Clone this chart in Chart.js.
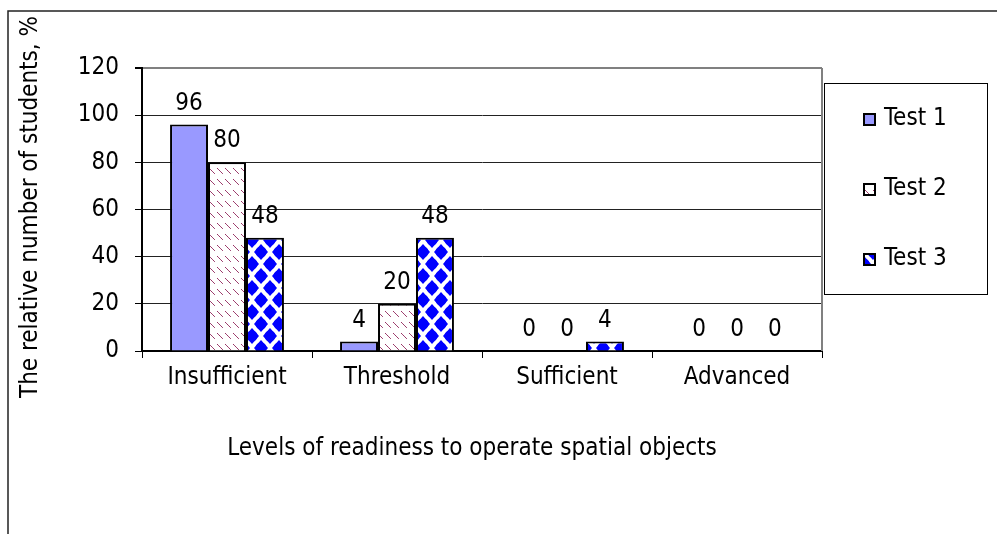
<!DOCTYPE html>
<html>
<head>
<meta charset="utf-8">
<script src="https://cdn.jsdelivr.net/npm/chart.js@4.4.0/dist/chart.umd.min.js"></script>
<style>
  html, body { margin: 0; padding: 0; background: #fff; }
</style>
</head>
<body>
<canvas id="readinessChart" width="997" height="534"></canvas>
<script>
const categories = ['Insufficient', 'Threshold', 'Sufficient', 'Advanced'];
const seriesNames = ['Test 1', 'Test 2', 'Test 3'];
const test1 = [96, 4, 0, 0];
const test2 = [80, 20, 0, 0];
const test3 = [48, 48, 4, 0];
const yTickValues = [0, 20, 40, 60, 80, 100, 120];
const yTitle = 'The relative number of students, %';
const xTitle = 'Levels of readiness to operate spatial objects';

const FONT = '"DejaVu Sans Condensed", "Liberation Sans", sans-serif';

// hatched fill for Test 2
function hatchPattern(ctx) {
  const c = document.createElement('canvas');
  c.width = 8; c.height = 11;
  const g = c.getContext('2d');
  g.fillStyle = '#fff';
  g.fillRect(0, 0, 8, 11);
  for (let i = 0; i < 6; i++) {
    g.fillStyle = i % 2 ? '#a34d78' : '#993366';
    g.fillRect(1 + i, 3 + i, 1, 1);
  }
  return ctx.createPattern(c, 'repeat');
}

// blue diamond fill for Test 3
function diamondPattern(ctx) {
  const c = document.createElement('canvas');
  c.width = 18; c.height = 24;
  const g = c.getContext('2d');
  g.fillStyle = '#fff';
  g.fillRect(0, 0, 18, 24);
  g.fillStyle = '#0000ff';
  [[0, 0], [18, 0], [0, 24], [18, 24], [9, 12]].forEach(([x, y]) => {
    g.beginPath();
    g.moveTo(x, y - 8);
    g.lineTo(x + 7, y);
    g.lineTo(x, y + 8);
    g.lineTo(x - 7, y);
    g.closePath();
    g.fill();
    g.beginPath();
    g.arc(x, y, 5.5, 0, Math.PI * 2);
    g.fill();
  });
  return ctx.createPattern(c, 'repeat');
}

const canvas = document.getElementById('readinessChart');
const ctx = canvas.getContext('2d');
const fills = ['#9999ff', hatchPattern(ctx), diamondPattern(ctx)];

const extras = {
  id: 'extras',
  afterDatasetsDraw(chart) {
    const g = chart.ctx;
    const area = chart.chartArea;
    g.save();

    // plot area right border
    g.strokeStyle = '#808080';
    g.lineWidth = 2;
    g.beginPath();
    g.moveTo(area.right, area.top);
    g.lineTo(area.right, area.bottom);
    g.stroke();

    // value labels
    g.fillStyle = '#000';
    g.font = '24px ' + FONT;
    g.textAlign = 'center';
    g.textBaseline = 'alphabetic';
    chart.data.datasets.forEach((ds, i) => {
      chart.getDatasetMeta(i).data.forEach((bar, j) => {
        g.fillText(String(ds.data[j]), bar.x, bar.y - 15);
      });
    });

    // axis titles
    g.textBaseline = 'middle';
    g.fillText(xTitle, 472, 449);
    g.save();
    g.translate(31, 207);
    g.rotate(-Math.PI / 2);
    g.fillText(yTitle, 0, 0);
    g.restore();

    // legend box
    g.strokeStyle = '#000';
    g.lineWidth = 1;
    g.strokeRect(824.5, 83.5, 163, 211);
    g.textAlign = 'left';
    chart.data.datasets.forEach((ds, i) => {
      const cy = 119 + i * 70;
      g.fillStyle = ds.backgroundColor;
      g.fillRect(864, cy - 5, 11, 11);
      g.strokeStyle = '#000';
      g.lineWidth = 2;
      g.strokeRect(864, cy - 5, 11, 11);
      g.fillStyle = '#000';
      g.fillText(ds.label, 884, cy);
    });

    // outer frame
    g.strokeStyle = '#222';
    g.lineWidth = 1.5;
    g.beginPath();
    g.moveTo(8, 534);
    g.lineTo(8, 11);
    g.lineTo(997, 11);
    g.stroke();

    g.restore();
  }
};

new Chart(ctx, {
  type: 'bar',
  data: {
    labels: categories,
    datasets: [test1, test2, test3].map((vals, i) => ({
      label: seriesNames[i],
      data: vals,
      backgroundColor: fills[i],
      borderColor: '#000',
      borderWidth: 2,
      categoryPercentage: 0.67,
      barPercentage: 1.0
    }))
  },
  options: {
    responsive: false,
    animation: false,
    devicePixelRatio: 1,
    layout: { padding: { top: 68, right: 175, left: 0, bottom: 0 } },
    plugins: {
      legend: { display: false },
      tooltip: { enabled: false }
    },
    scales: {
      x: {
        afterFit(scale) { scale.height = 534 - 351; },
        grid: {
          display: true,
          drawOnChartArea: false,
          drawTicks: true,
          tickLength: 7,
          color: '#000',
          lineWidth: 1
        },
        border: { display: true, color: '#000', width: 2 },
        ticks: {
          color: '#000',
          font: { family: FONT, size: 24 },
          padding: 5,
          maxRotation: 0
        }
      },
      y: {
        min: 0,
        max: 120,
        afterFit(scale) { scale.width = 142; },
        afterBuildTicks(scale) {
          scale.ticks = yTickValues.map(v => ({ value: v }));
        },
        grid: {
          color: c => c.tick && c.tick.value === 120 ? '#808080' : '#222',
          lineWidth: c => c.tick && c.tick.value === 120 ? 2 : 1,
          drawTicks: true,
          tickLength: 7,
          tickColor: '#000'
        },
        border: { display: true, color: '#000', width: 2 },
        ticks: {
          color: '#000',
          font: { family: FONT, size: 24 },
          padding: 16
        }
      }
    }
  },
  plugins: [extras]
});
</script>
</body>
</html>
